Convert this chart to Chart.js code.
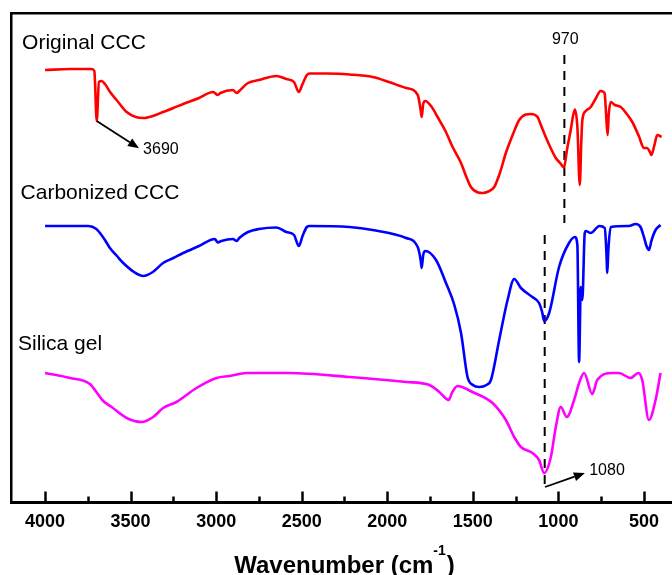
<!DOCTYPE html>
<html>
<head>
<meta charset="utf-8">
<script src="https://cdn.jsdelivr.net/npm/chart.js@4/dist/chart.umd.min.js"></script>
<style>
  html, body { margin: 0; padding: 0; background: #ffffff; overflow: hidden; }
  #wrap { width: 672px; height: 575px; }
</style>
</head>
<body>
<div id="wrap"><canvas id="c" width="672" height="575"></canvas></div>
<script>
// ---- Data (wavenumber in cm-1, offset transmittance in arbitrary units) ----
const SERIES_NAMES = ['Original CCC', 'Carbonized CCC', 'Silica gel'];
const SERIES_COLORS = ['#ff0000', '#0000ff', '#ff00ff'];

const RED_WN = [4000,3850,3728,3712,3698,3685,3669,3650,3620,3582,3523,3470,3427,3370,3310,3250,3193,3100,3018,2990,2975,2902,2880,2865,2814,2750,2648,2590,2545,2517,2495,2470,2454,2350,2221,2085,1990,1890,1822,1805,1799,1790,1778,1740,1706,1660,1618,1569,1540,1511,1470,1443,1410,1375,1340,1307,1265,1229,1190,1161,1122,1100,1074,1045,1015,990,967,950,928,912,903,889,875,866,860,840,811,780,753,735,729,720,712,706,694,670,636,600,568,530,500,481,465,457,440,422,397];
const RED_T  = [431,432,432,430,380,419,420,417,409,401,389,384,383,385,389,393,397,403,409,406,408,411,408,410,418,421,425,422,419,409,417,426,427.5,427.5,426.5,424,419,413,406,391,384,397,400,394,384,370,354,338,325,314,308.5,308,309.5,314,329,348,367,381,386.5,387,384,375,364,353,343,338,333.5,351,371,387,391.5,374,316,360,381,390,394,403,410,409,407,383,366,386,399,396,394,387,379,365,353,353,349,346,355,366,364];

const BLUE_WN = [4000,3747,3700,3679,3650,3621,3580,3543,3480,3427,3370,3310,3250,3193,3100,3008,2990,2970,2902,2880,2865,2814,2750,2648,2590,2545,2517,2495,2470,2454,2221,2085,1890,1822,1805,1799,1790,1778,1715,1657,1608,1569,1531,1500,1463,1420,1394,1346,1297,1258,1219,1152,1113,1095,1083,1054,996,938,903,889,879,869,860,846,840,811,760,729,720,714,708,694,588,549,520,500,485,471,455,432,403];
const BLUE_T  = [275,275,272,268,261,253,245,238,229,225,229,238,243,248,255,262,258.5,260,262,260,263,269,272,273.5,269,266,255,265,274,275,274,271,263,254,241,233,246,250,241,218,196,168,124,116,114,116,121,161,201,222,213,204,198,189,180,188,234,258,264,256,139,214,201,268,270,268,275,273,251,228,251,274,275,277,274,264,255,251,261,271,276];

const MAG_WN = [4000,3854,3738,3700,3660,3611,3523,3436,3368,3310,3232,3115,2998,2921,2824,2571,2221,1890,1754,1696,1641,1620,1589,1502,1385,1307,1258,1219,1152,1113,1083,1044,1015,986,951,908,879,850,802,773,685,646,578,533,510,471,432,403];
const MAG_T  = [128,123,117,109,100,94,83,79,84,93,99,113,123,125,128,128,124,119,116,109,101,109,115,109,98,81,64,54,48,41,28,44,74,94,84,101,118,128,107,121,128,128,123,128,121,81,101,128];

// axis ticks
const MAJOR_TICKS = [4000,3500,3000,2500,2000,1500,1000,500];
const MINOR_TICKS = [3750,3250,2750,2250,1750,1250,750];

// marked bands (dashed guides): wavenumber, from, to (same units as the series)
const GUIDE_970  = { wn: 965,  from: 446, to: 278 };
const GUIDE_1080 = { wn: 1080, from: 266, to: 11 };

// annotations
const PEAK_LABELS = ['970', '3690', '1080'];

function pts(wn, t) { return wn.map((w, i) => ({ x: w, y: t[i] })); }

const FONT = '"Liberation Sans", Arial, Helvetica, sans-serif';

const annot = {
  id: 'annot',
  afterDraw(chart) {
    const { ctx, scales: { x, y }, chartArea } = chart;
    const X = v => x.getPixelForValue(v);
    const Y = v => y.getPixelForValue(v);
    ctx.save();
    // inward tick marks
    ctx.strokeStyle = '#000';
    ctx.lineWidth = 2.5;
    const b = chartArea.bottom;
    MAJOR_TICKS.forEach(v => { const px = Math.round(X(v)) + 0.5; ctx.beginPath(); ctx.moveTo(px, b); ctx.lineTo(px, b - 11); ctx.stroke(); });
    MINOR_TICKS.forEach(v => { const px = Math.round(X(v)) + 0.5; ctx.beginPath(); ctx.moveTo(px, b); ctx.lineTo(px, b - 6); ctx.stroke(); });

    // arrows
    function arrow(w0, v0, w1, v1) {
      const x0 = X(w0), y0 = Y(v0), x1 = X(w1), y1 = Y(v1);
      const a = Math.atan2(y1 - y0, x1 - x0);
      const L = 11, H = 4.5;
      ctx.strokeStyle = '#000'; ctx.fillStyle = '#000'; ctx.lineWidth = 1.8;
      ctx.beginPath(); ctx.moveTo(x0, y0);
      ctx.lineTo(x1 - L * Math.cos(a), y1 - L * Math.sin(a)); ctx.stroke();
      ctx.beginPath();
      ctx.moveTo(x1, y1);
      ctx.lineTo(x1 - L * Math.cos(a) + H * Math.sin(a), y1 - L * Math.sin(a) - H * Math.cos(a));
      ctx.lineTo(x1 - L * Math.cos(a) - H * Math.sin(a), y1 - L * Math.sin(a) + H * Math.cos(a));
      ctx.closePath(); ctx.fill();
    }
    arrow(3698, 380, 3451, 352.7);
    arrow(1078, 14, 845, 28);

    // peak labels
    ctx.fillStyle = '#000';
    ctx.font = '16px ' + FONT;
    ctx.textBaseline = 'alphabetic';
    ctx.textAlign = 'center';
    ctx.fillText(PEAK_LABELS[0], X(960), Y(456.7));
    ctx.textAlign = 'left';
    ctx.fillText(PEAK_LABELS[1], X(3427), Y(347));
    ctx.fillText(PEAK_LABELS[2], X(820), Y(26));

    // series names
    ctx.font = '21px ' + FONT;
    ctx.fillText(SERIES_NAMES[0], X(4134), Y(451.7));
    ctx.fillText(SERIES_NAMES[1], X(4143), Y(302));
    ctx.fillText(SERIES_NAMES[2], X(4158), Y(151.5));

    // axis title with superscript
    const main = 'Wavenumber (cm', sup = '-1', close = ')';
    ctx.font = 'bold 24px ' + FONT;
    const wMain = ctx.measureText(main).width, wClose = ctx.measureText(close).width;
    ctx.font = 'bold 14px ' + FONT;
    const wSup = ctx.measureText(sup).width;
    const total = wMain + wSup + 1 + wClose;
    let tx = (chartArea.left + chartArea.right) / 2 + 3 - total / 2;
    const base = 573;
    ctx.textAlign = 'left';
    ctx.font = 'bold 24px ' + FONT;
    ctx.fillText(main, tx, base); tx += wMain;
    ctx.font = 'bold 14px ' + FONT;
    ctx.fillText(sup, tx, base - 18); tx += wSup + 1;
    ctx.font = 'bold 24px ' + FONT;
    ctx.fillText(close, tx, base);
    ctx.restore();
  }
};

const lineDs = (label, data, color) => ({
  label, data, borderColor: color, borderWidth: 2.6, pointRadius: 0,
  cubicInterpolationMode: 'monotone', fill: false
});
const guideDs = (g) => ({
  label: 'guide', data: [{ x: g.wn, y: g.from }, { x: g.wn, y: g.to }],
  borderColor: '#000', borderWidth: 2, borderDash: [9, 7], pointRadius: 0, fill: false
});

new Chart(document.getElementById('c'), {
  type: 'line',
  data: {
    datasets: [
      lineDs(SERIES_NAMES[0], pts(RED_WN, RED_T), SERIES_COLORS[0]),
      lineDs(SERIES_NAMES[1], pts(BLUE_WN, BLUE_T), SERIES_COLORS[1]),
      lineDs(SERIES_NAMES[2], pts(MAG_WN, MAG_T), SERIES_COLORS[2]),
      guideDs(GUIDE_970),
      guideDs(GUIDE_1080)
    ]
  },
  options: {
    responsive: false,
    animation: false,
    devicePixelRatio: 1,
    layout: { padding: 0 },
    plugins: { legend: { display: false }, tooltip: { enabled: false }, title: { display: false } },
    scales: {
      x: {
        type: 'linear', position: 'bottom', reverse: true, min: 336, max: 4199,
        afterBuildTicks: s => { s.ticks = MAJOR_TICKS.concat(MINOR_TICKS).sort((a, b) => a - b).map(v => ({ value: v })); },
        afterFit: s => { s.height = 72.5; },
        grid: { display: false, drawTicks: false },
        border: { display: true, color: '#000', width: 3 },
        ticks: {
          autoSkip: false, maxRotation: 0, padding: 9, color: '#000',
          font: { family: FONT, size: 18, weight: 'bold' },
          callback: v => MAJOR_TICKS.includes(v) ? String(v) : ''
        },
        title: { display: false }
      },
      xTop: {
        type: 'linear', position: 'top', reverse: true, min: 336, max: 4199,
        afterFit: s => { s.height = 13; },
        grid: { display: false, drawTicks: false },
        ticks: { display: false },
        border: { display: true, color: '#000', width: 2.5 }
      },
      y: {
        type: 'linear', position: 'left', min: -1.5, max: 488,
        afterFit: s => { s.width = 11; },
        grid: { display: false, drawTicks: false },
        ticks: { display: false },
        border: { display: true, color: '#000', width: 2.5 }
      }
    }
  },
  plugins: [annot]
});
</script>
</body>
</html>
